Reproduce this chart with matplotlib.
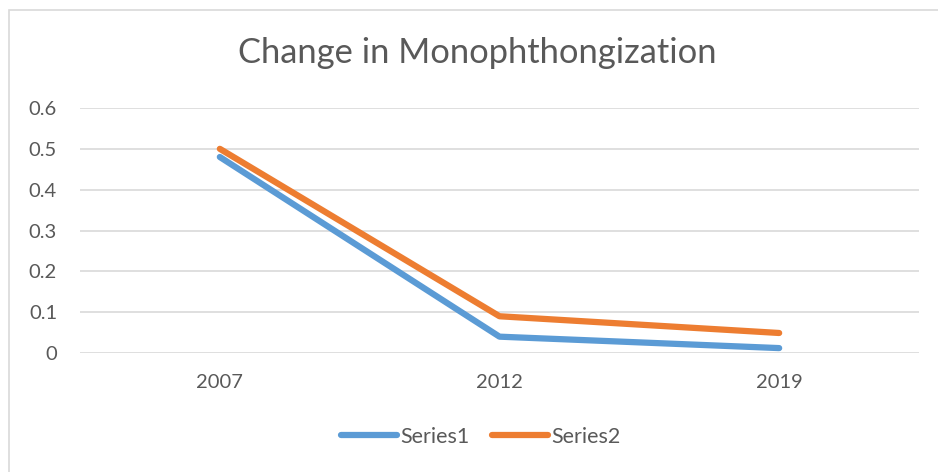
import matplotlib.pyplot as plt
from matplotlib.patches import Rectangle

years = ["2007", "2012", "2019"]
series1 = [0.48, 0.04, 0.012]
series2 = [0.50, 0.09, 0.049]
y_ticks = [0, 0.1, 0.2, 0.3, 0.4, 0.5, 0.6]
y_labels = ["0", "0.1", "0.2", "0.3", "0.4", "0.5", "0.6"]

plt.rcParams['font.family'] = ['Lato', 'DejaVu Sans']
text_color = '#595959'

W, H = 938, 472
fig = plt.figure(figsize=(W / 100, H / 100), dpi=100)

# chart border (only left/top visible in the reference)
fig.patches.append(Rectangle((9 / W, -0.1), 1.2, 1 - 10 / H + 0.1, transform=fig.transFigure,
                             fill=False, edgecolor='#D9D9D9', linewidth=1.2))

ax = fig.add_axes([80 / W, 1 - 353 / H, (919 - 80) / W, (353 - 108) / H])
x = range(len(years))
ax.plot(x, series1, color='#5B9BD5', linewidth=4.5, solid_capstyle='round', label='Series1')
ax.plot(x, series2, color='#ED7D31', linewidth=4.5, solid_capstyle='round', label='Series2')

ax.set_xlim(-0.5, len(years) - 0.5)
ax.set_ylim(0, 0.6)
ax.set_xticks(list(x))
ax.set_xticklabels(years)
ax.set_yticks(y_ticks)
ax.set_yticklabels(y_labels)
ax.tick_params(length=0, labelsize=14.5, colors=text_color)
ax.tick_params(axis='y', pad=16.5)
ax.tick_params(axis='x', pad=15)
ax.grid(axis='y', color='#D9D9D9', linewidth=1.2)
ax.set_axisbelow(True)
for s in ax.spines.values():
    s.set_visible(False)

fig.text(477 / W, 1 - 53 / H, 'Change in Monophthongization', ha='center', va='center',
         fontsize=24.8, color=text_color)

fig.legend(loc='center', bbox_to_anchor=(481 / W, 1 - 437 / H), ncol=2, frameon=False,
           fontsize=15.5, labelcolor=text_color, handlelength=2.6, handletextpad=0.15,
           columnspacing=1.05)

plt.savefig('out.png', dpi=100)
